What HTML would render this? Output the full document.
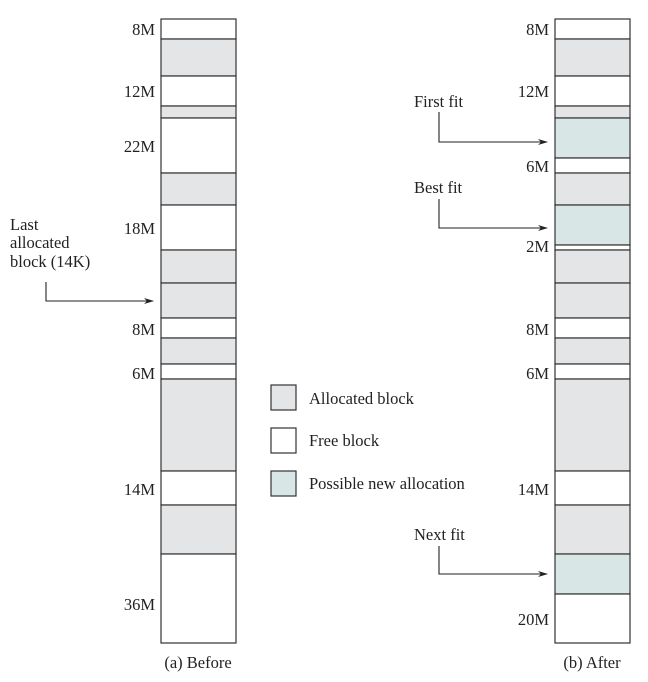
<!DOCTYPE html>
<html><head><meta charset="utf-8"><style>
html,body{margin:0;padding:0;background:#fff;}
svg text{font-family:"Liberation Serif",serif;font-size:16.5px;fill:#222;}
</style></head><body>
<svg width="648" height="677" viewBox="0 0 648 677" xmlns="http://www.w3.org/2000/svg">
<defs><marker id="a" markerWidth="10" markerHeight="6" refX="9" refY="3" orient="auto" markerUnits="userSpaceOnUse"><path d="M0,0 L10,3 L0,6 L3,3 z" fill="#222"/></marker></defs>
<g stroke="#333" stroke-width="1.2">
<rect x="161" y="19" width="75" height="20" fill="#fff"/>
<rect x="161" y="39" width="75" height="37" fill="#e4e5e7"/>
<rect x="161" y="76" width="75" height="30" fill="#fff"/>
<rect x="161" y="106" width="75" height="12" fill="#e4e5e7"/>
<rect x="161" y="118" width="75" height="55" fill="#fff"/>
<rect x="161" y="173" width="75" height="32" fill="#e4e5e7"/>
<rect x="161" y="205" width="75" height="45" fill="#fff"/>
<rect x="161" y="250" width="75" height="33" fill="#e4e5e7"/>
<rect x="161" y="283" width="75" height="35" fill="#e4e5e7"/>
<rect x="161" y="318" width="75" height="20" fill="#fff"/>
<rect x="161" y="338" width="75" height="26" fill="#e4e5e7"/>
<rect x="161" y="364" width="75" height="15" fill="#fff"/>
<rect x="161" y="379" width="75" height="92" fill="#e4e5e7"/>
<rect x="161" y="471" width="75" height="34" fill="#fff"/>
<rect x="161" y="505" width="75" height="49" fill="#e4e5e7"/>
<rect x="161" y="554" width="75" height="89" fill="#fff"/>
<rect x="555" y="19" width="75" height="20" fill="#fff"/>
<rect x="555" y="39" width="75" height="37" fill="#e4e5e7"/>
<rect x="555" y="76" width="75" height="30" fill="#fff"/>
<rect x="555" y="106" width="75" height="12" fill="#e4e5e7"/>
<rect x="555" y="118" width="75" height="40" fill="#d9e6e6"/>
<rect x="555" y="158" width="75" height="15" fill="#fff"/>
<rect x="555" y="173" width="75" height="32" fill="#e4e5e7"/>
<rect x="555" y="205" width="75" height="40" fill="#d9e6e6"/>
<rect x="555" y="245" width="75" height="5" fill="#fff"/>
<rect x="555" y="250" width="75" height="33" fill="#e4e5e7"/>
<rect x="555" y="283" width="75" height="35" fill="#e4e5e7"/>
<rect x="555" y="318" width="75" height="20" fill="#fff"/>
<rect x="555" y="338" width="75" height="26" fill="#e4e5e7"/>
<rect x="555" y="364" width="75" height="15" fill="#fff"/>
<rect x="555" y="379" width="75" height="92" fill="#e4e5e7"/>
<rect x="555" y="471" width="75" height="34" fill="#fff"/>
<rect x="555" y="505" width="75" height="49" fill="#e4e5e7"/>
<rect x="555" y="554" width="75" height="40" fill="#d9e6e6"/>
<rect x="555" y="594" width="75" height="49" fill="#fff"/>
<rect x="271" y="385" width="25" height="25" fill="#e4e5e7"/>
<rect x="271" y="428" width="25" height="25" fill="#fff"/>
<rect x="271" y="471" width="25" height="25" fill="#d9e6e6"/>
</g>
<g stroke="#222" stroke-width="1.1" fill="none">
<path d="M46,282 V301 H153" marker-end="url(#a)"/>
<path d="M439,112 V142 H547" marker-end="url(#a)"/>
<path d="M439,199 V228 H547" marker-end="url(#a)"/>
<path d="M439,546 V574 H547" marker-end="url(#a)"/>
</g>
<g text-anchor="end">
<text x="155" y="35">8M</text>
<text x="155" y="97">12M</text>
<text x="155" y="152">22M</text>
<text x="155" y="234">18M</text>
<text x="155" y="335">8M</text>
<text x="155" y="379">6M</text>
<text x="155" y="495">14M</text>
<text x="155" y="610">36M</text>
<text x="549" y="35">8M</text>
<text x="549" y="97">12M</text>
<text x="549" y="172">6M</text>
<text x="549" y="252">2M</text>
<text x="549" y="335">8M</text>
<text x="549" y="379">6M</text>
<text x="549" y="495">14M</text>
<text x="549" y="625">20M</text>
</g>
<text x="10" y="230">Last</text>
<text x="10" y="248">allocated</text>
<text x="10" y="267">block (14K)</text>
<text x="414" y="107">First fit</text>
<text x="414" y="193">Best fit</text>
<text x="414" y="540">Next fit</text>
<text x="309" y="404">Allocated block</text>
<text x="309" y="446">Free block</text>
<text x="309" y="489">Possible new allocation</text>
<text x="198" y="668" text-anchor="middle">(a) Before</text>
<text x="592" y="668" text-anchor="middle">(b) After</text>
</svg>
</body></html>
